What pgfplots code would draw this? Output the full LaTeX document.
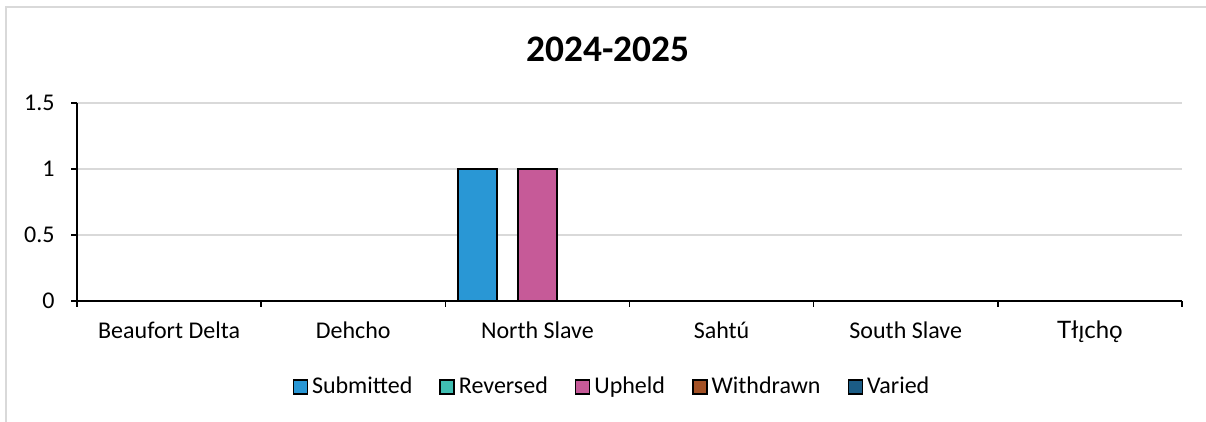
\documentclass[border=0pt]{standalone}
\usepackage{fontspec}
\setmainfont{Carlito}
\newfontfamily\latofont{Lato}
\usepackage{pgfplots}
\pgfplotsset{compat=1.18}

\definecolor{cSub}{RGB}{41,151,213}
\definecolor{cRev}{RGB}{64,190,178}
\definecolor{cUph}{RGB}{198,90,152}
\definecolor{cWit}{RGB}{163,81,38}
\definecolor{cVar}{RGB}{27,92,133}
\definecolor{gridgray}{RGB}{217,217,217}

\begin{document}
\begin{tikzpicture}
  % page frame, 1px = 0.5pt
  \useasboundingbox (0,0) rectangle (603pt,211pt);
  \draw[gridgray, line width=1pt] (3pt,0) -- (3pt,207.5pt) -- (603pt,207.5pt);
  \node[font=\fontsize{18.7}{22}\selectfont\bfseries] at (304pt,186.5pt) {2024-2025};
  \begin{axis}[
    at={(38.5pt,60.5pt)}, anchor=south west,
    width=552.5pt, height=99pt, scale only axis,
    ybar,
    bar width=19.5pt,
    ymin=0, ymax=1.5,
    ytick={0,0.5,1,1.5},
    xmin=-0.5, xmax=5.5,
    xtick={0,...,5},
    xticklabels={Beaufort Delta,Dehcho,North Slave,Sahtú,South Slave,{\latofont Tłı̨chǫ}},
    minor xtick={-0.5,0.5,...,5.5},
    major x tick style={draw=none},
    tick align=outside,
    major tick length=3pt,
    minor tick length=3pt,
    tick style={black, line width=0.75pt},
    axis x line*=bottom,
    axis y line*=left,
    axis line style={black, line width=1pt},
    ymajorgrids,
    grid style={gridgray, line width=0.75pt},
    tick label style={font=\fontsize{12}{14}\selectfont},
    /pgf/number format/assume math mode=true,
    yticklabel style={anchor=east, inner sep=0pt, xshift=-8pt},
    xticklabel style={anchor=base, inner sep=0pt, yshift=-16pt},
    legend columns=-1,
    legend style={at={(0.485,-0.434)}, anchor=center, draw=none, fill=none,
      font=\fontsize{12}{14}\selectfont, inner sep=0pt,
      /tikz/every even column/.append style={column sep=11.5pt}},
    legend image code/.code={\draw[#1, draw=black, line width=0.75pt] (0pt,-3.5pt) rectangle (7pt,3.5pt);},
    every axis plot/.append style={draw=black, line width=0.75pt},
  ]
    % Submitted
    \addplot[fill=cSub, bar shift=-30pt] coordinates {(0,0) (1,0) (2,1) (3,0) (4,0) (5,0)};
    \addlegendentry{Submitted}
    % Reversed
    \addplot[fill=cRev, bar shift=-15pt] coordinates {(0,0) (1,0) (2,0) (3,0) (4,0) (5,0)};
    \addlegendentry{Reversed}
    % Upheld
    \addplot[fill=cUph, bar shift=0pt] coordinates {(0,0) (1,0) (2,1) (3,0) (4,0) (5,0)};
    \addlegendentry{Upheld}
    % Withdrawn
    \addplot[fill=cWit, bar shift=15pt] coordinates {(0,0) (1,0) (2,0) (3,0) (4,0) (5,0)};
    \addlegendentry{Withdrawn}
    % Varied
    \addplot[fill=cVar, bar shift=30pt] coordinates {(0,0) (1,0) (2,0) (3,0) (4,0) (5,0)};
    \addlegendentry{Varied}
  \end{axis}
\end{tikzpicture}
\end{document}
